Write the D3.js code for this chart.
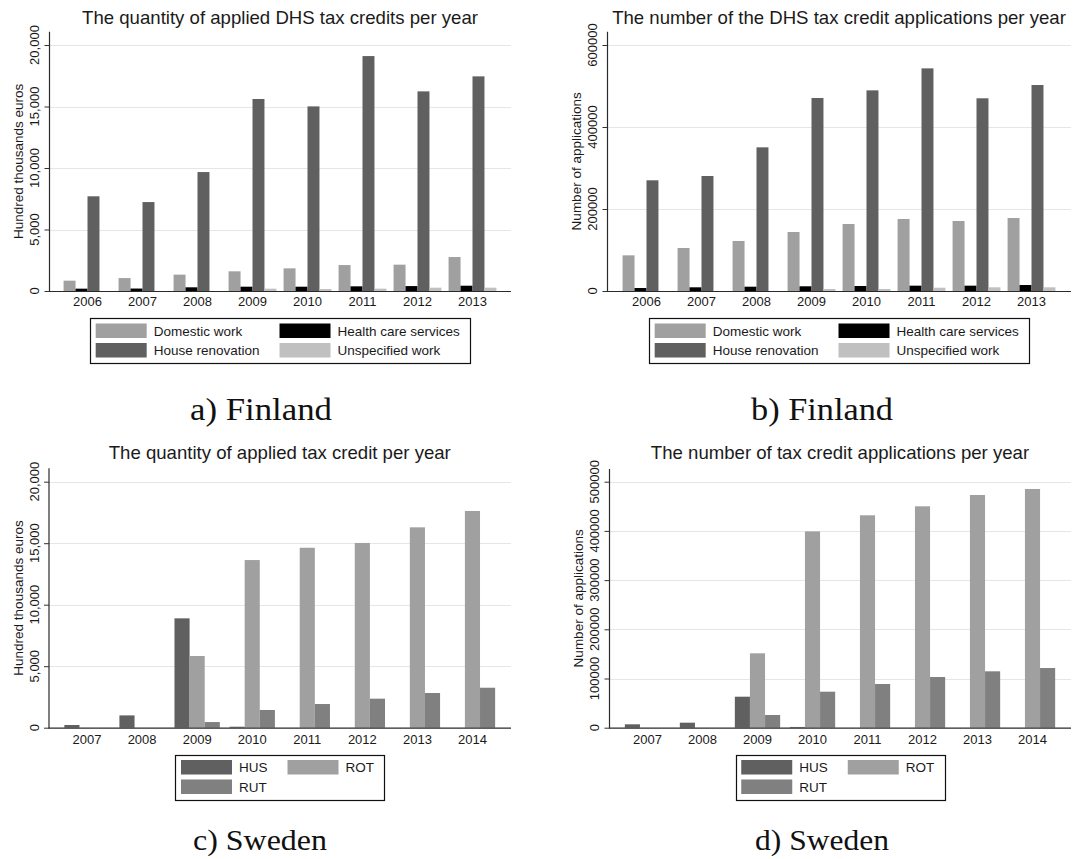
<!DOCTYPE html>
<html>
<head>
<meta charset="utf-8">
<script src="https://cdn.jsdelivr.net/npm/d3@7"></script>
<style>
  html, body { margin: 0; padding: 0; background: #ffffff; }
  svg { display: block; }
  text { font-family: "Liberation Sans", Arial, Helvetica, sans-serif; fill: #1a1a1a; }
  .caption { font-family: "Liberation Serif", "Times New Roman", serif; fill: #111; }
</style>
</head>
<body>
<svg id="fig" width="1078" height="859"></svg>
<script>
// ---- Finland: DHS tax credit, 2006-2013 ----
const finYears = [2006, 2007, 2008, 2009, 2010, 2011, 2012, 2013];
const finSeries = ["Domestic work", "Health care services", "House renovation", "Unspecified work"];

// Applied tax credit, hundred thousands euros
const finAmountDomestic = [840, 1050, 1330, 1600, 1840, 2110, 2140, 2760];
const finAmountHealth   = [190, 200, 300, 350, 350, 380, 400, 430];
const finAmountHouse    = [7700, 7230, 9670, 15610, 15010, 19100, 16230, 17450];
const finAmountUnspec   = [0, 0, 0, 190, 160, 190, 270, 270];

// Number of applications
const finCountDomestic = [87000, 104900, 122000, 143900, 163400, 175600, 170700, 178000];
const finCountHealth   = [7300, 9000, 10500, 11500, 12200, 13000, 13000, 14600];
const finCountHouse    = [270000, 280500, 350400, 470700, 489400, 543000, 470000, 502400];
const finCountUnspec   = [0, 0, 0, 4900, 4900, 8000, 9000, 9000];

// ---- Sweden: HUS / ROT / RUT, 2007-2014 ----
const sweYears = [2007, 2008, 2009, 2010, 2011, 2012, 2013, 2014];
const sweSeries = ["HUS", "ROT", "RUT"];

const sweAmountHUS = [220, 1000, 8890, 80, 0, 0, 0, 0];
const sweAmountROT = [0, 0, 5830, 13630, 14630, 15020, 16290, 17620];
const sweAmountRUT = [0, 0, 460, 1440, 1925, 2360, 2820, 3250];

const sweCountHUS = [6900, 10200, 63000, 1500, 0, 0, 0, 0];
const sweCountROT = [0, 0, 151200, 399000, 431700, 450000, 473000, 485200];
const sweCountRUT = [0, 0, 25800, 73200, 88800, 103000, 114600, 121300];

// Axis ticks
const ticksAmount = [0, 5000, 10000, 15000, 20000];
const ticksFinCount = [0, 200000, 400000, 600000];
const ticksSweCount = [0, 100000, 200000, 300000, 400000, 500000];

// Titles and captions
const titles = [
  "The quantity of applied DHS tax credits per year",
  "The number of the DHS tax credit applications per year",
  "The quantity of applied tax credit per year",
  "The number of tax credit applications per year"
];
const yTitles = ["Hundred thousands euros", "Number of applications", "Hundred thousands euros", "Number of applications"];
const captions = ["a) Finland", "b) Finland", "c) Sweden", "d) Sweden"];

const finColors = ["#a0a0a0", "#000000", "#606060", "#c0c0c0"];
const sweColors = ["#606060", "#a0a0a0", "#808080"];

const svg = d3.select("#fig");

function buildRows(years, seriesNames, columns) {
  return years.map((yr, i) => {
    const row = { year: yr };
    seriesNames.forEach((s, j) => { row[s] = columns[j][i]; });
    return row;
  });
}

function drawPanel(p) {
  const g = svg.append("g");
  const x0 = d3.scaleBand().domain(p.years).range([p.left, p.right])
    .paddingInner(p.padInner).paddingOuter(p.padOuter);
  const x1 = d3.scaleBand().domain(p.series).range([0, x0.bandwidth()]);
  const y = d3.scaleLinear().domain([0, p.ticks[p.ticks.length - 1]]).range([p.bottom, p.gridTop]);
  const color = d3.scaleOrdinal().domain(p.series).range(p.colors);

  // gridlines
  g.append("g").selectAll("line").data(p.ticks.filter(t => t > 0)).join("line")
    .attr("x1", p.left).attr("x2", p.right)
    .attr("y1", d => Math.round(y(d)) + 0.5).attr("y2", d => Math.round(y(d)) + 0.5)
    .attr("stroke", "#e6e6e6").attr("stroke-width", 1.2);

  // bars
  g.append("g").selectAll("g").data(p.rows).join("g")
    .attr("transform", d => `translate(${x0(d.year)},0)`)
    .selectAll("rect").data(d => p.series.map(s => ({ key: s, value: d[s] })))
    .join("rect")
    .attr("x", d => x1(d.key)).attr("width", x1.bandwidth())
    .attr("y", d => y(d.value)).attr("height", d => y(0) - y(d.value))
    .attr("fill", d => color(d.key));

  // y axis
  const yAxis = d3.axisLeft(y).tickValues(p.ticks).tickSize(5).tickFormat(p.fmt);
  const ya = g.append("g").attr("transform", `translate(${p.left + 0.5},0)`).call(yAxis);
  ya.select(".domain").remove();
  ya.selectAll(".tick line").attr("stroke", "#333");
  ya.selectAll(".tick text").remove();
  g.append("line").attr("x1", p.left + 0.5).attr("x2", p.left + 0.5)
    .attr("y1", p.axisTop).attr("y2", p.bottom + 0.5)
    .attr("stroke", "#2a2a2a").attr("stroke-width", 1.2);
  g.append("g").selectAll("text").data(p.ticks).join("text")
    .attr("transform", d => `translate(${p.left - 10},${y(d)}) rotate(-90)`)
    .attr("text-anchor", "middle").style("font-size", "13px")
    .text(p.fmt);

  // x axis
  g.append("line").attr("x1", p.left).attr("x2", p.right)
    .attr("y1", p.bottom + 0.5).attr("y2", p.bottom + 0.5)
    .attr("stroke", "#2a2a2a").attr("stroke-width", 1.2);
  g.append("g").selectAll("text").data(p.years).join("text")
    .attr("x", d => x0(d) + x0.bandwidth() / 2).attr("y", p.bottom + p.xLabelDy)
    .attr("text-anchor", "middle").style("font-size", "13px")
    .text(d => d);

  // titles
  const cx = (p.left + p.right) / 2;
  g.append("text").attr("x", cx).attr("y", p.titleY).attr("text-anchor", "middle")
    .style("font-size", "18.6px").text(p.title);
  g.append("text")
    .attr("transform", `translate(${p.left - 26},${(p.axisTop + p.bottom) / 2}) rotate(-90)`)
    .attr("text-anchor", "middle").style("font-size", "13.5px").text(p.yTitle);

  // legend
  const lg = g.append("g");
  const cols = 2, swW = 51, swH = 14.5, rowGap = 5, textOff = 58, padL = 5.5, padT = 5.5;
  const items = p.series.map((s, i) => ({ s, col: i % cols, row: Math.floor(i / cols) }));
  const tmp = lg.selectAll("text.tmp").data(items).join("text").attr("class", "tmp")
    .style("font-size", "13.5px").text(d => d.s);
  const widths = [0, 0];
  tmp.each(function (d) { widths[d.col] = Math.max(widths[d.col], this.getComputedTextLength()); });
  tmp.remove();
  const colX = [padL, padL + textOff + widths[0] + 20];
  const nRows = Math.ceil(items.length / cols);
  const boxW = colX[1] + textOff + widths[1] + 10;
  const boxH = padT * 2 + nRows * swH + (nRows - 1) * rowGap;
  const bx = cx - boxW / 2, by = p.legendTop;
  lg.append("rect").attr("x", Math.round(bx) + 0.5).attr("y", Math.round(by) + 0.5)
    .attr("width", Math.round(boxW)).attr("height", Math.round(boxH))
    .attr("fill", "#fff").attr("stroke", "#111").attr("stroke-width", 1.2);
  const it = lg.selectAll("g.item").data(items).join("g").attr("class", "item")
    .attr("transform", d => `translate(${bx + colX[d.col]},${by + padT + d.row * (swH + rowGap)})`);
  it.append("rect").attr("width", swW).attr("height", swH).attr("fill", d => color(d.s));
  it.append("text").attr("x", textOff).attr("y", swH / 2 + 4.8)
    .style("font-size", "13.5px").text(d => d.s);

  // caption
  svg.append("text").attr("class", "caption")
    .attr("x", p.capX).attr("y", p.capY).attr("text-anchor", "middle")
    .attr("textLength", p.capW).attr("lengthAdjust", "spacingAndGlyphs")
    .style("font-size", p.capSize).text(p.caption);
}

const fmtComma = d3.format(",.0f");
const fmtPlain = d3.format(".0f");

const panels = [
  { years: finYears, series: finSeries, colors: finColors,
    rows: buildRows(finYears, finSeries, [finAmountDomestic, finAmountHealth, finAmountHouse, finAmountUnspec]),
    ticks: ticksAmount, fmt: fmtComma, left: 49, right: 511, bottom: 291, gridTop: 45, axisTop: 31.7,
    padInner: 0.13, padOuter: 0.265, xLabelDy: 15, titleY: 24, legendTop: 318,
    title: titles[0], yTitle: yTitles[0], caption: captions[0], capX: 261, capY: 420, capW: 142, capSize: "31px" },
  { years: finYears, series: finSeries, colors: finColors,
    rows: buildRows(finYears, finSeries, [finCountDomestic, finCountHealth, finCountHouse, finCountUnspec]),
    ticks: ticksFinCount, fmt: fmtPlain, left: 607, right: 1071, bottom: 291, gridTop: 45, axisTop: 31.7,
    padInner: 0.13, padOuter: 0.283, xLabelDy: 15, titleY: 24, legendTop: 318,
    title: titles[1], yTitle: yTitles[1], caption: captions[1], capX: 822, capY: 420, capW: 142, capSize: "31px" },
  { years: sweYears, series: sweSeries, colors: sweColors,
    rows: buildRows(sweYears, sweSeries, [sweAmountHUS, sweAmountROT, sweAmountRUT]),
    ticks: ticksAmount, fmt: fmtComma, left: 48.5, right: 511, bottom: 727.7, gridTop: 481.7, axisTop: 468.3,
    padInner: 0.176, padOuter: 0.288, xLabelDy: 16, titleY: 459.3, legendTop: 754.5,
    title: titles[2], yTitle: yTitles[2], caption: captions[2], capX: 260, capY: 850, capW: 134, capSize: "29px" },
  { years: sweYears, series: sweSeries, colors: sweColors,
    rows: buildRows(sweYears, sweSeries, [sweCountHUS, sweCountROT, sweCountRUT]),
    ticks: ticksSweCount, fmt: fmtPlain, left: 609, right: 1071, bottom: 727.7, gridTop: 481.7, axisTop: 469,
    padInner: 0.176, padOuter: 0.288, xLabelDy: 16, titleY: 459.3, legendTop: 754.5,
    title: titles[3], yTitle: yTitles[3], caption: captions[3], capX: 822, capY: 850, capW: 134, capSize: "29px" }
];

panels.forEach(drawPanel);
</script>
</body>
</html>
